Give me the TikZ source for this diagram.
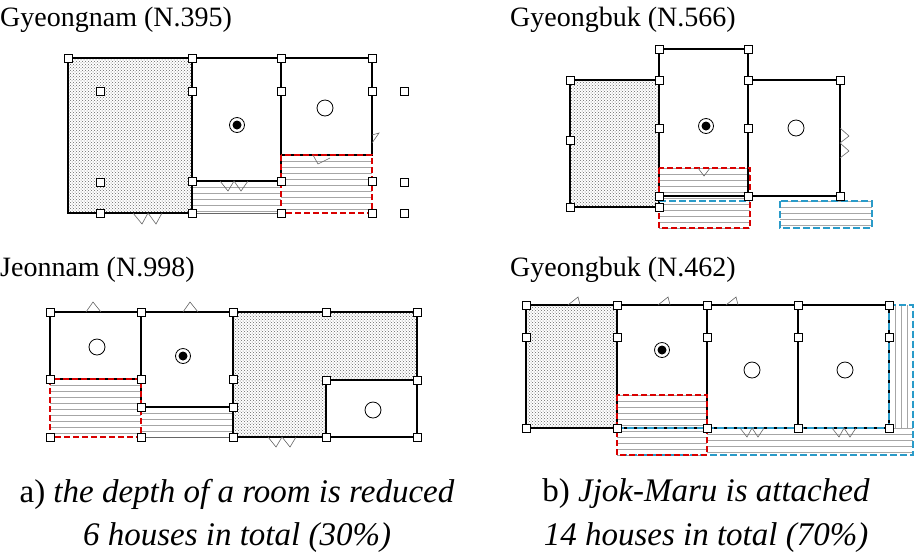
\documentclass[tikz,border=0pt]{standalone}
\usepackage{fontspec}
\setmainfont{Liberation Serif}
\usetikzlibrary{patterns}
\tikzset{
  post/.style={draw,fill=white,line width=0.7pt,minimum size=8pt,inner sep=0pt},
  wall/.style={line width=2.2pt},
  stip/.style={pattern=crosshatch dots,pattern color=black!60},
  reddash/.style={draw=red!85!black,line width=1.5pt,dash pattern=on 6pt off 3pt},
  cyandash/.style={draw=cyan!80!black,line width=1.4pt,dash pattern=on 7pt off 3pt},
  hob/.style={circle,draw,line width=0.8pt,minimum size=16pt,inner sep=0pt},
  title/.style={font=\fontsize{28}{31}\selectfont,anchor=west,inner sep=0pt},
  caption/.style={font=\fontsize{33}{36}\selectfont},
  door/.style={draw=black!60,line width=0.6pt}
}
\newcommand{\hatchbox}[4]{% x1 y1 x2 y2
  \begin{scope}
    \clip (#1,#2) rectangle (#3,#4);
    \foreach \yy in {0,6,...,90} \draw[black!35,line width=0.5pt] (#1,#2+\yy) -- (#3,#2+\yy);
  \end{scope}}
\newcommand{\dotroom}[2]{%
  \node[hob,minimum size=15pt] at (#1,#2) {};
  \fill (#1,#2) circle (4.5pt);}
\begin{document}
\begin{tikzpicture}[x=1pt,y=-1pt]
\useasboundingbox (0,0) rectangle (923,558);
% ---- Gyeongnam
\node[title] (t1) at (0,20) {Gyeongnam (N.395)};
\fill[stip] (68,58) rectangle (192,213);
\hatchbox{192}{181}{281}{213}
\hatchbox{281}{155}{372}{213}
\draw[wall] (68,58) rectangle (192,213);
\draw[wall] (192,58) rectangle (281,181);
\draw[wall] (281,58) rectangle (372,155);
\draw[black!60] (192,213) -- (281,213);
\draw[reddash] (281,155) rectangle (372,213);
\node[hob] (c1) at (325,108) {};
\dotroom{237}{125}
\foreach \x/\y [count=\i] in {68/58,192/58,281/58,372/58,100/91,192/91,281/91,372/91,100/182,192/181,281/181,372/181,100/213,192/213,281/213,372/213,404/91,404/182,404/213}
  \node[post] (pa\i) at (\x,\y) {};
\draw[door] (133,213) -- (142,224) -- (148,213) -- (156,224) -- (162,213);
\draw[door] (220,181) -- (228,191) -- (234,181) -- (241,191) -- (248,181);
\draw[door] (313,155) -- (318,164) -- (330,158);
\draw[door] (372,135) -- (379,133) -- (372,143);
% ---- Gyeongbuk 566
\node[title] (t2) at (510,20) {Gyeongbuk (N.566)};
\fill[stip] (570,80) rectangle (659,207);
\hatchbox{659}{168}{750}{228}
\hatchbox{780}{201}{872}{228}
\draw[wall] (570,80) rectangle (659,207);
\draw[wall] (659,49) rectangle (748,196);
\draw[wall] (748,80) rectangle (840,196);
\draw[reddash] (659,168) rectangle (750,228);
\draw[cyandash] (659,201) -- (750,201);
\draw[cyandash] (780,201) rectangle (872,228);
\node[hob] (c2) at (796,128) {};
\dotroom{706}{126}
\foreach \x/\y [count=\i] in {659/49,748/49,570/80,659/80,748/80,840/80,570/140,659/128,748/128,570/207,659/196,748/196,840/196,659/207}
  \node[post] (pb\i) at (\x,\y) {};
\draw[door] (840,128) -- (849,136) -- (840,143) -- (849,151) -- (840,158);
\draw[door] (698,168) -- (704,176) -- (710,168);
% ---- Jeonnam
\node[title] (t3) at (0,270) {Jeonnam (N.998)};
\fill[stip] (233,312) rectangle (417,380);
\fill[stip] (233,380) rectangle (326,437);
\hatchbox{50}{379}{141}{437}
\hatchbox{141}{407}{233}{437}
\draw[wall] (50,312) rectangle (141,379);
\draw[wall] (141,312) rectangle (233,407);
\draw[wall] (233,312) -- (417,312) -- (417,437) -- (233,437) -- cycle;
\draw[wall] (326,380) rectangle (417,437);
\draw[black!60] (141,437) -- (233,437);
\draw[reddash] (50,379) rectangle (141,437);
\node[hob] (c3) at (97,347) {};
\node[hob] (c4) at (373,410) {};
\dotroom{183}{356}
\foreach \x/\y [count=\i] in {50/312,141/312,233/312,326/312,417/312,50/379,141/379,233/379,326/380,417/380,141/407,233/407,50/437,141/437,233/437,326/437,417/437}
  \node[post] (pc\i) at (\x,\y) {};
\draw[door] (86,312) -- (93,302) -- (101,312);
\draw[door] (183,312) -- (190,302) -- (198,312);
\draw[door] (268,437) -- (276,447) -- (282,437) -- (290,447) -- (296,437);
% ---- Gyeongbuk 462
\node[title] (t4) at (510,270) {Gyeongbuk (N.462)};
\fill[stip] (526,305) rectangle (617,428);
\hatchbox{617}{395}{707}{455}
\hatchbox{707}{428}{913}{455}
\begin{scope}
  \clip (889,305) rectangle (913,428);
  \foreach \xx in {0,6,...,30} \draw[black!35,line width=0.5pt] (889+\xx,305) -- (889+\xx,428);
\end{scope}
\draw[wall] (526,305) rectangle (889,428);
\foreach \x in {617,707,798} \draw[wall] (\x,305) -- (\x,428);
\draw[cyandash] (889,305) -- (913,305) -- (913,455) -- (617,455);
\draw[cyandash] (617,428) -- (889,428) -- (889,305);
\draw[reddash] (617,395) rectangle (707,455);
\node[hob] (c5) at (752,370) {};
\node[hob] (c6) at (845,370) {};
\dotroom{662}{350}
\foreach \x/\y [count=\i] in {526/305,617/305,707/305,798/305,889/305,526/337,617/337,707/337,798/337,889/337,526/428,617/428,707/428,798/428,889/428}
  \node[post] (pd\i) at (\x,\y) {};
\draw[door] (568,305) -- (578,297) -- (580,305);
\draw[door] (658,305) -- (668,297) -- (670,305);
\draw[door] (726,305) -- (736,297) -- (738,305);
\draw[door] (740,428) -- (747,437) -- (752,428) -- (758,437) -- (764,428);
\draw[door] (832,428) -- (839,437) -- (844,428) -- (850,437) -- (856,428);
% ---- captions
\node[caption] (a1) at (237,494) {a) \textit{the depth of a room is reduced}};
\node[caption] (a2) at (237,538) {\textit{6 houses in total (30\%)}};
\node[caption] (b1) at (706,494) {b) \textit{Jjok-Maru is attached}};
\node[caption] (b2) at (706,538) {\textit{14 houses in total (70\%)}};
\end{tikzpicture}
\end{document}
